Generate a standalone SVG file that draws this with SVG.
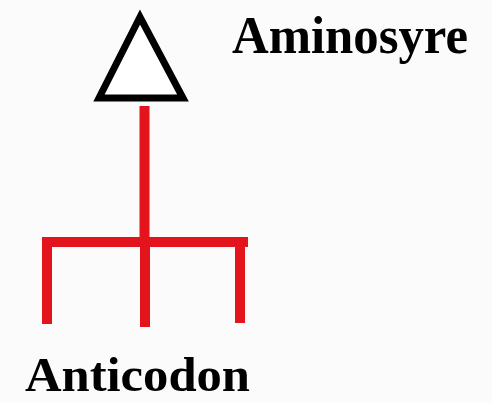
<svg xmlns="http://www.w3.org/2000/svg" width="492" height="403" viewBox="0 0 492 403">
<style>
.lbl{font-family:"Liberation Serif","Times New Roman",serif;font-weight:bold;fill:#000}
.red{stroke:#e3141b;stroke-width:10;fill:none}
</style>
<rect width="492" height="403" fill="#fbfbfb"/>
<g id="aminosyre-node">
<polygon points="140,17 99,98 183,98" fill="#fff" stroke="#000" stroke-width="7" stroke-linejoin="miter"/>
<text class="lbl" x="232" y="53" font-size="52" textLength="236" lengthAdjust="spacingAndGlyphs">Aminosyre</text>
</g>
<g id="anticodon-node">
<text class="lbl" x="25" y="391" font-size="48" textLength="225" lengthAdjust="spacingAndGlyphs">Anticodon</text>
</g>
<g id="connectors">
<path class="red" d="M144.5,106 V237"/>
<path class="red" d="M42,242 H248"/>
<path class="red" d="M47,242 V324"/>
<path class="red" d="M145,242 V327"/>
<path class="red" d="M240,242 V323"/>
</g>
</svg>
